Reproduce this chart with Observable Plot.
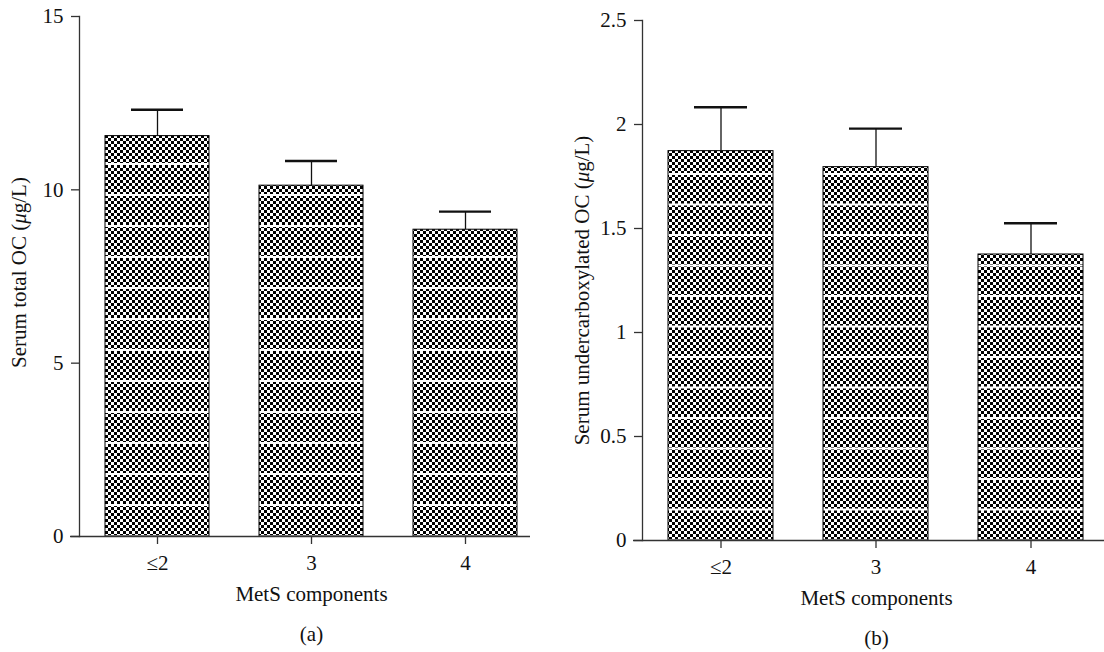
<!DOCTYPE html>
<html><head><meta charset="utf-8">
<script src="https://cdn.jsdelivr.net/npm/d3@7"></script>
<script src="https://cdn.jsdelivr.net/npm/@observablehq/plot@0.6"></script>
<style>
body{margin:0;background:#fff;}
#wrap{display:flex;width:1104px;height:652px;}
#wrap svg{display:block;}
</style></head><body><div id="wrap"></div>
<script>
// ---- data ----
const categories = ["≤2", "3", "4"];
const totalOC = [11.55, 10.12, 8.85];        // panel (a) means
const totalOCErr = [0.76, 0.71, 0.52];       // panel (a) error (upper)
const ucOC = [1.872, 1.795, 1.375];          // panel (b) means
const ucOCErr = [0.211, 0.185, 0.15];        // panel (b) error (upper)
const yTicksA = [0, 5, 10, 15];
const yTicksB = [0, 0.5, 1, 1.5, 2, 2.5];
const xLabel = "MetS components";
const yLabelA = "Serum total OC (μg/L)";
const yLabelB = "Serum undercarboxylated OC (μg/L)";

const FONT = "'Liberation Serif', 'DejaVu Serif', serif";

function panel(cfg) {
  const data = categories.map((c, i) => ({cat: c, v: cfg.values[i], top: cfg.values[i] + cfg.errs[i]}));
  const id = cfg.id;
  const plot = Plot.plot({
    width: 552, height: 652,
    marginLeft: cfg.marginLeft, marginRight: cfg.marginRight,
    marginTop: cfg.marginTop, marginBottom: cfg.marginBottom,
    style: {fontFamily: FONT, fontSize: "21px", color: "#111", background: "white"},
    x: {domain: categories, range: cfg.xRange, paddingInner: 0.3226, paddingOuter: 0.161, label: null},
    y: {domain: [0, cfg.yTicks[cfg.yTicks.length - 1]], label: null},
    marks: [
      Plot.barY(data, {x: "cat", y: "v", fill: `url(#chk-${id})`}),
      Plot.barY(data, {x: "cat", y: "v", fill: `url(#stripe-${id})`, stroke: "#000", strokeWidth: 1}),
      Plot.ruleX(data, {x: "cat", y1: "v", y2: "top", stroke: "#111", strokeWidth: 1.3}),
      Plot.tickY(data, {x: "cat", y: "top", stroke: "#111", strokeWidth: 2.4, insetLeft: 26, insetRight: 26}),
      Plot.axisY({ticks: cfg.yTicks, tickFormat: d => String(d), tickSize: 8, tickPadding: 8, label: null, stroke: "#333", fill: "#111", fontSize: 21, strokeWidth: 1.3}),
      Plot.axisX({tickSize: 8, tickPadding: 11, label: null, stroke: "#333", fill: "#111", fontSize: 21, strokeWidth: 1.3}),
      Plot.frame({anchor: "left", stroke: "#333", strokeWidth: 1.3}),
      Plot.ruleY([0], {insetLeft: -9, stroke: "#333", strokeWidth: 1.3}),
      Plot.text([cfg.yLabel], {frameAnchor: "left", textAnchor: "middle", rotate: -90, dx: -60, dy: cfg.yLabelDy, fontSize: 21, fill: "#111"}),
      Plot.text([xLabel], {frameAnchor: "bottom", dx: cfg.xLabelDx, dy: 64, fontSize: 21, fill: "#111"}),
      Plot.text([cfg.panel], {frameAnchor: "bottom", dx: cfg.xLabelDx, dy: 104, fontSize: 21, fill: "#111"})
    ]
  });
  const svg = d3.select(plot);
  const defs = svg.insert("defs", ":first-child");
  const chk = defs.append("pattern").attr("id", `chk-${id}`)
    .attr("patternUnits", "userSpaceOnUse").attr("width", 6).attr("height", 6);
  chk.append("rect").attr("width", 6).attr("height", 6).attr("fill", "#fff");
  chk.append("rect").attr("x", 0).attr("y", 0).attr("width", 3).attr("height", 3).attr("fill", "#000");
  chk.append("rect").attr("x", 3).attr("y", 3).attr("width", 3).attr("height", 3).attr("fill", "#000");
  const sp = cfg.stripe;
  const stripe = defs.append("pattern").attr("id", `stripe-${id}`)
    .attr("patternUnits", "userSpaceOnUse").attr("width", 10).attr("height", sp)
    .attr("patternTransform", `translate(0, ${(652 - cfg.marginBottom) % sp})`);
  stripe.append("rect").attr("x", 0).attr("y", -1).attr("width", 10).attr("height", 2).attr("fill", "#fff");
  stripe.append("rect").attr("x", 0).attr("y", sp - 1).attr("width", 10).attr("height", 2).attr("fill", "#fff");
  // italic mu
  svg.selectAll("text").each(function () {
    const t = this.textContent;
    if (t.includes("μ") && this.children.length === 0) {
      const parts = t.split("μ");
      this.textContent = "";
      const s = d3.select(this);
      s.append("tspan").text(parts[0]);
      s.append("tspan").attr("font-style", "italic").text("μ");
      s.append("tspan").text(parts[1]);
    }
  });
  return plot;
}

const wrap = document.getElementById("wrap");
wrap.appendChild(panel({
  id: "a", values: totalOC, errs: totalOCErr, yTicks: yTicksA, yLabel: yLabelA, panel: "(a)",
  marginLeft: 79, marginRight: 22, marginTop: 16, marginBottom: 116, xRange: [79, 543],
  yLabelDy: -4, xLabelDx: 6.5, stripe: 31
}));
wrap.appendChild(panel({
  id: "b", values: ucOC, errs: ucOCErr, yTicks: yTicksB, yLabel: yLabelB, panel: "(b)",
  marginLeft: 90, marginRight: 0, marginTop: 20, marginBottom: 112, xRange: [90, 557],
  yLabelDy: 10, xLabelDx: 3, stripe: 30.5
}));
</script>
</body></html>
